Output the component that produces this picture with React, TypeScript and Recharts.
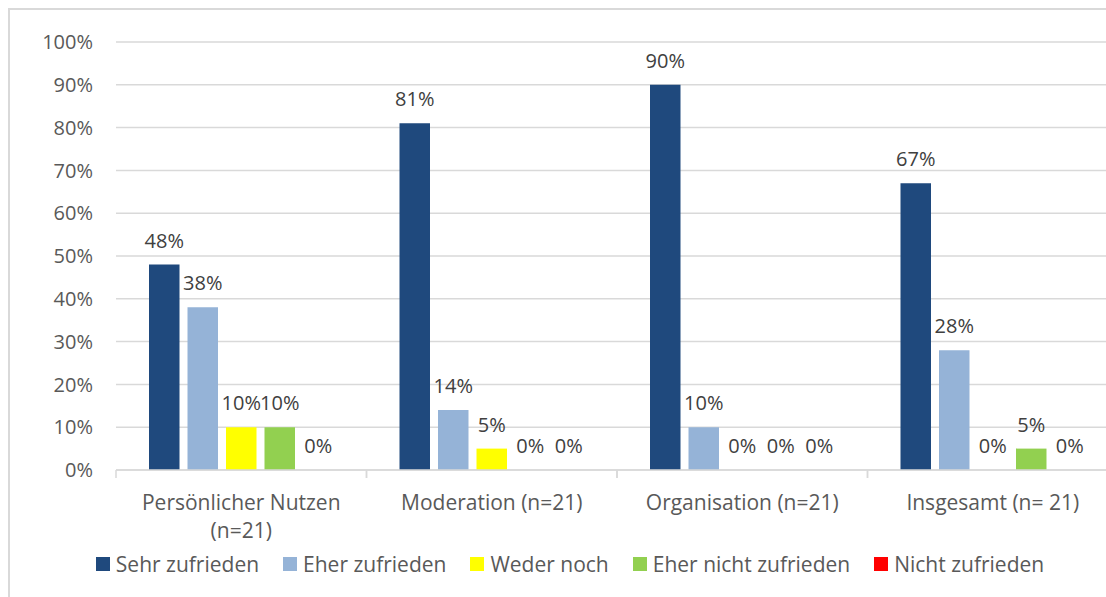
import React from "react";
import {
  BarChart,
  Bar,
  XAxis,
  YAxis,
  CartesianGrid,
  LabelList,
  Legend,
} from "recharts";

const categories = [
  "Persönlicher Nutzen (n=21)",
  "Moderation (n=21)",
  "Organisation (n=21)",
  "Insgesamt (n= 21)",
];
const sehrZufrieden = [48, 81, 90, 67];
const eherZufrieden = [38, 14, 10, 28];
const wederNoch = [10, 5, 0, 0];
const eherNichtZufrieden = [10, 0, 0, 5];
const nichtZufrieden = [0, 0, 0, 0];
const yTicks = [0, 10, 20, 30, 40, 50, 60, 70, 80, 90, 100];

const series = [
  { key: "sehr", name: "Sehr zufrieden", color: "#1f497d", values: sehrZufrieden },
  { key: "eher", name: "Eher zufrieden", color: "#95b3d7", values: eherZufrieden },
  { key: "weder", name: "Weder noch", color: "#ffff00", values: wederNoch },
  { key: "eherNicht", name: "Eher nicht zufrieden", color: "#92d050", values: eherNichtZufrieden },
  { key: "nicht", name: "Nicht zufrieden", color: "#ff0000", values: nichtZufrieden },
];

const data = categories.map((name, i) => {
  const row: any = { name };
  series.forEach((s) => (row[s.key] = s.values[i]));
  return row;
});

const FONT = "'Open Sans', sans-serif";
const AXIS_COLOR = "#595959";
const GRID = "#d9d9d9";

const CHART_W = 1116;
const CHART_H = 569;
const MARGIN = { top: 32, right: 8, left: 0, bottom: 0 };
const Y_W = 106;
const BAND = (CHART_W - MARGIN.left - MARGIN.right - Y_W) / categories.length;

// long category names break before the "(n=..)" part, like the original
function splitLabel(label: string) {
  if (label.length <= 20) return [label];
  const i = label.lastIndexOf(" (");
  return i > 0 ? [label.slice(0, i), label.slice(i + 1)] : [label];
}

function CategoryTick({ x, y, payload }: any) {
  const lines = splitLabel(payload.value);
  return (
    <g>
      <line x1={x - BAND / 2} x2={x - BAND / 2} y1={y} y2={y + 8} stroke={GRID} strokeWidth={1.5} />
      <line x1={x + BAND / 2} x2={x + BAND / 2} y1={y} y2={y + 8} stroke={GRID} strokeWidth={1.5} />
      <text x={x} y={y + 40} textAnchor="middle" fill={AXIS_COLOR} style={{ fontFamily: FONT, fontSize: 21 }}>
        {lines.map((l, i) => (
          <tspan key={i} x={x} dy={i === 0 ? 0 : 28}>
            {l}
          </tspan>
        ))}
      </text>
    </g>
  );
}

function LegendContent() {
  return (
    <div
      style={{
        display: "flex",
        justifyContent: "center",
        alignItems: "center",
        gap: 24,
        height: 30,
        fontFamily: FONT,
        fontSize: 21,
        color: AXIS_COLOR,
        paddingLeft: 12,
      }}
    >
      {series.map((s) => (
        <div key={s.key} style={{ display: "flex", alignItems: "center", gap: 6 }}>
          <span style={{ width: 14, height: 14, background: s.color, display: "inline-block" }} />
          <span>{s.name}</span>
        </div>
      ))}
    </div>
  );
}

export default function App() {
  return (
    <div style={{ width: 1106, height: 597, overflow: "hidden", position: "fixed", left: 0, top: 0, background: "#fff" }}>
      <div
        style={{
          position: "absolute",
          left: 8,
          top: 8,
          width: CHART_W,
          height: 600,
          border: `2px solid ${GRID}`,
          boxSizing: "border-box",
          fontFamily: FONT,
        }}
      >
        <BarChart
          width={CHART_W}
          height={CHART_H}
          data={data}
          margin={MARGIN}
          barSize={30.5}
          barGap={8}
        >
          <CartesianGrid vertical={false} stroke={GRID} strokeWidth={1.5} />
          <XAxis
            dataKey="name"
            interval={0}
            axisLine={{ stroke: GRID, strokeWidth: 1.5 }}
            tickLine={false}
            tickSize={0}
            tickMargin={0}
            height={79}
            tick={<CategoryTick />}
          />
          <YAxis
            width={Y_W}
            domain={[0, 100]}
            ticks={yTicks}
            interval={0}
            axisLine={false}
            tickLine={false}
            tickSize={0}
            tickMargin={23}
            tickFormatter={(v) => `${v}%`}
            tick={{ fill: AXIS_COLOR, fontSize: 20, fontFamily: FONT }}
          />
          <Legend verticalAlign="bottom" height={30} content={<LegendContent />} />
          {series.map((s) => (
            <Bar
              key={s.key}
              dataKey={s.key}
              name={s.name}
              fill={s.color}
              minPointSize={0.01}
              isAnimationActive={false}
            >
              <LabelList
                dataKey={s.key}
                position="top"
                offset={17}
                formatter={(v: any) => `${v}%`}
                fill="#404040"
                style={{ fontSize: 20, fontFamily: FONT }}
              />
            </Bar>
          ))}
        </BarChart>
      </div>
    </div>
  );
}
